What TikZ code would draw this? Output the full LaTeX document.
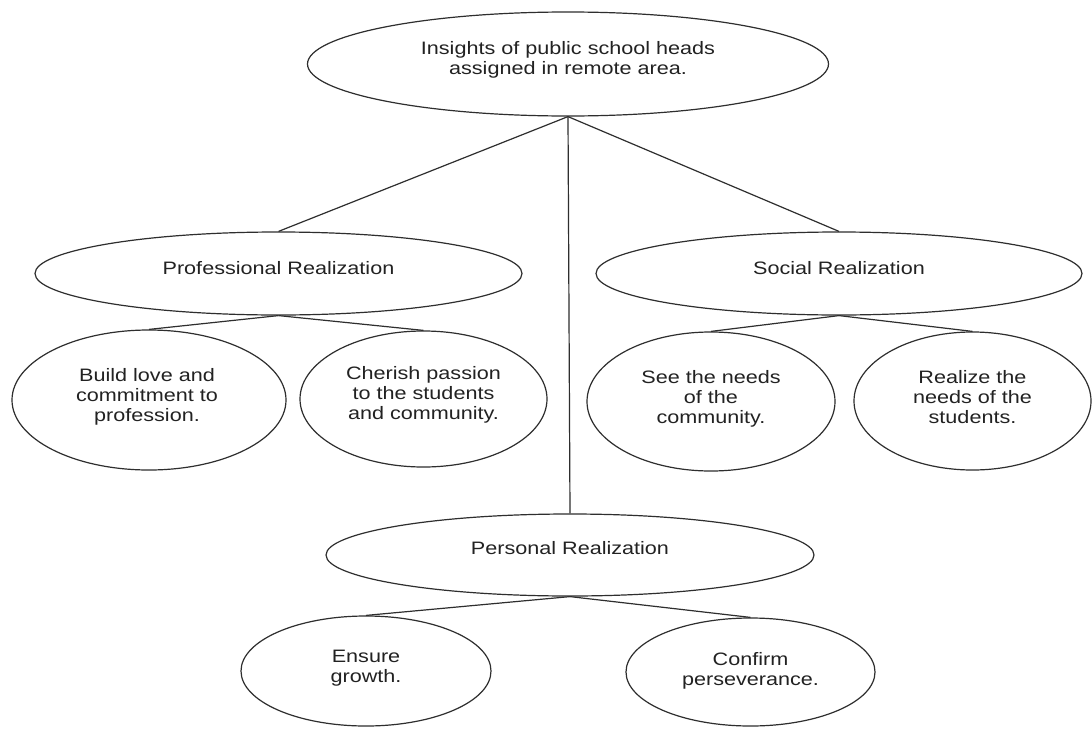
\documentclass[tikz,border=0pt]{standalone}
\usepackage{fontspec}
\setmainfont{Liberation Sans}[FakeStretch=1.2]
\usetikzlibrary{shapes.geometric}
\definecolor{linec}{HTML}{2E2E2E}
\definecolor{textc}{HTML}{222222}
\begin{document}
\begin{tikzpicture}[x=1pt,y=-1pt,
  oval/.style={draw=linec, line width=1.2pt, ellipse, inner sep=0pt},
  txt/.style={text=textc, align=center, font=\fontsize{18}{20}\selectfont, inner sep=0pt},
  link/.style={draw=linec, line width=1.2pt}]
\useasboundingbox[fill=white] (0,0) rectangle (1092,728);
% shapes
\node[oval, minimum width=521pt, minimum height=104pt] (top) at (568,64) {};
\node[oval, minimum width=487pt, minimum height=83pt] (prof) at (278.5,273.5) {};
\node[oval, minimum width=486pt, minimum height=83pt] (soc) at (839,273.5) {};
\node[oval, minimum width=488pt, minimum height=82pt] (pers) at (570,555) {};
\node[oval, minimum width=274pt, minimum height=140pt] (c1) at (149,400) {};
\node[oval, minimum width=247pt, minimum height=136pt] (c2) at (423.5,399) {};
\node[oval, minimum width=248pt, minimum height=139pt] (c3) at (711,401.5) {};
\node[oval, minimum width=237pt, minimum height=138pt] (c4) at (972.5,401) {};
\node[oval, minimum width=250pt, minimum height=110pt] (c5) at (366,671) {};
\node[oval, minimum width=249pt, minimum height=108pt] (c6) at (750.5,672) {};
% texts
\node[txt] (ttop) at ([yshift=4.6pt]top.center) {Insights of public school heads\\assigned in remote area.};
\node[txt] (tprof) at ([yshift=5.5pt]prof.center) {Professional Realization};
\node[txt] (tsoc) at ([yshift=5.5pt]soc.center) {Social Realization};
\node[txt] (tpers) at ([yshift=7pt]pers.center) {Personal Realization};
\node[txt] (tc1) at ([xshift=-2pt,yshift=3.6pt]c1.center) {Build love and\\commitment to\\profession.};
\node[txt] (tc2) at ([yshift=4.6pt]c2.center) {Cherish passion\\to the students\\and community.};
\node[txt] (tc3) at ([yshift=2.6pt]c3.center) {See the needs\\of the\\community.};
\node[txt] (tc4) at ([yshift=4pt]c4.center) {Realize the\\needs of the\\students.};
\node[txt] (tc5) at ([yshift=2.6pt]c5.center) {Ensure\\growth.};
\node[txt] (tc6) at ([yshift=1.6pt]c6.center) {Confirm\\perseverance.};
% connectors
\draw[link] (top.south) -- (prof.north);
\draw[link] (top.south) -- (soc.north);
\draw[link] (top.south) -- (pers.north);
\draw[link] (prof.south) -- (c1.north);
\draw[link] (prof.south) -- (c2.north);
\draw[link] (soc.south) -- (c3.north);
\draw[link] (soc.south) -- (c4.north);
\draw[link] (pers.south) -- (c5.north);
\draw[link] (pers.south) -- (c6.north);
\end{tikzpicture}
\end{document}
